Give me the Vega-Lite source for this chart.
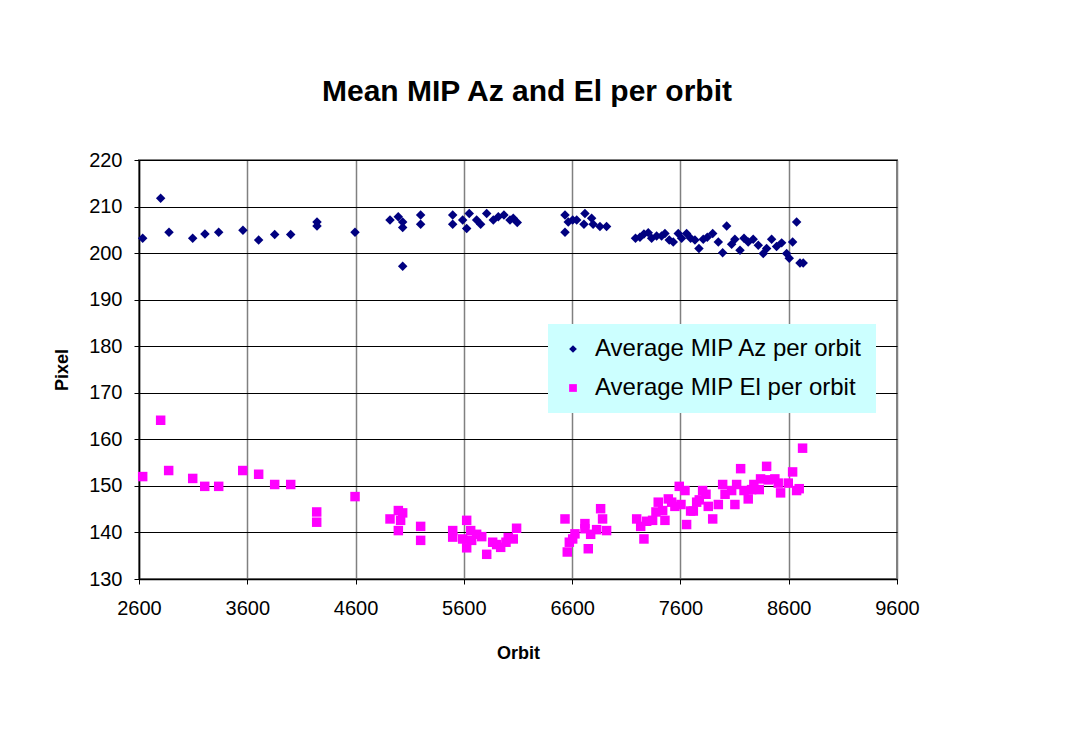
{
  "$schema": "https://vega.github.io/schema/vega-lite/v6.json",
  "autosize": "none",
  "width": 758,
  "height": 419,
  "padding": {"left": 139, "top": 160, "right": 168, "bottom": 159},
  "background": "white",
  "title": {
    "text": "Mean MIP Az and El per orbit",
    "font": "Liberation Sans",
    "fontSize": 30,
    "fontWeight": "bold",
    "color": "black",
    "anchor": "middle",
    "baseline": "alphabetic",
    "offset": 19,
    "dx": 9
  },
  "config": {
    "font": "Liberation Sans",
    "view": {"stroke": "#808080", "strokeWidth": 2}
  },
  "data": {
    "values": [
      {"series": "Az", "orbit": 2634, "pixel": 203.2}, {"series": "Az", "orbit": 2800, "pixel": 211.8},
      {"series": "Az", "orbit": 2877, "pixel": 204.5}, {"series": "Az", "orbit": 3096, "pixel": 203.2},
      {"series": "Az", "orbit": 3209, "pixel": 204.1}, {"series": "Az", "orbit": 3336, "pixel": 204.5},
      {"series": "Az", "orbit": 3560, "pixel": 204.9}, {"series": "Az", "orbit": 3705, "pixel": 202.8},
      {"series": "Az", "orbit": 3853, "pixel": 204.0}, {"series": "Az", "orbit": 4001, "pixel": 204.0},
      {"series": "Az", "orbit": 4244, "pixel": 206.7}, {"series": "Az", "orbit": 4244, "pixel": 205.8},
      {"series": "Az", "orbit": 4595, "pixel": 204.5}, {"series": "Az", "orbit": 4918, "pixel": 207.1},
      {"series": "Az", "orbit": 4994, "pixel": 207.8}, {"series": "Az", "orbit": 5035, "pixel": 206.7},
      {"series": "Az", "orbit": 5035, "pixel": 205.5}, {"series": "Az", "orbit": 5035, "pixel": 197.2},
      {"series": "Az", "orbit": 5201, "pixel": 208.2}, {"series": "Az", "orbit": 5201, "pixel": 206.2},
      {"series": "Az", "orbit": 5497, "pixel": 208.2}, {"series": "Az", "orbit": 5497, "pixel": 206.2},
      {"series": "Az", "orbit": 5589, "pixel": 207.1}, {"series": "Az", "orbit": 5626, "pixel": 205.3},
      {"series": "Az", "orbit": 5650, "pixel": 208.5}, {"series": "Az", "orbit": 5718, "pixel": 207.1},
      {"series": "Az", "orbit": 5755, "pixel": 206.2}, {"series": "Az", "orbit": 5811, "pixel": 208.5},
      {"series": "Az", "orbit": 5872, "pixel": 207.1}, {"series": "Az", "orbit": 5918, "pixel": 207.8},
      {"series": "Az", "orbit": 5970, "pixel": 208.2}, {"series": "Az", "orbit": 6026, "pixel": 207.1},
      {"series": "Az", "orbit": 6056, "pixel": 207.5}, {"series": "Az", "orbit": 6093, "pixel": 206.6},
      {"series": "Az", "orbit": 6534, "pixel": 208.2}, {"series": "Az", "orbit": 6534, "pixel": 204.5},
      {"series": "Az", "orbit": 6564, "pixel": 206.7}, {"series": "Az", "orbit": 6605, "pixel": 207.1},
      {"series": "Az", "orbit": 6642, "pixel": 207.1}, {"series": "Az", "orbit": 6718, "pixel": 208.5},
      {"series": "Az", "orbit": 6709, "pixel": 206.2}, {"series": "Az", "orbit": 6780, "pixel": 207.5},
      {"series": "Az", "orbit": 6794, "pixel": 206.2}, {"series": "Az", "orbit": 6857, "pixel": 205.7},
      {"series": "Az", "orbit": 6918, "pixel": 205.7}, {"series": "Az", "orbit": 7185, "pixel": 203.2},
      {"series": "Az", "orbit": 7226, "pixel": 203.4}, {"series": "Az", "orbit": 7263, "pixel": 204.1},
      {"series": "Az", "orbit": 7303, "pixel": 204.4}, {"series": "Az", "orbit": 7334, "pixel": 203.2},
      {"series": "Az", "orbit": 7380, "pixel": 203.7}, {"series": "Az", "orbit": 7426, "pixel": 203.7},
      {"series": "Az", "orbit": 7457, "pixel": 204.2}, {"series": "Az", "orbit": 7497, "pixel": 202.8},
      {"series": "Az", "orbit": 7534, "pixel": 202.4}, {"series": "Az", "orbit": 7580, "pixel": 204.2},
      {"series": "Az", "orbit": 7611, "pixel": 203.2}, {"series": "Az", "orbit": 7657, "pixel": 204.2},
      {"series": "Az", "orbit": 7694, "pixel": 203.2}, {"series": "Az", "orbit": 7734, "pixel": 202.8},
      {"series": "Az", "orbit": 7771, "pixel": 201.0}, {"series": "Az", "orbit": 7811, "pixel": 203.0},
      {"series": "Az", "orbit": 7848, "pixel": 203.4}, {"series": "Az", "orbit": 7898, "pixel": 204.2},
      {"series": "Az", "orbit": 7950, "pixel": 202.4}, {"series": "Az", "orbit": 7990, "pixel": 200.1},
      {"series": "Az", "orbit": 8027, "pixel": 205.8}, {"series": "Az", "orbit": 8073, "pixel": 201.9},
      {"series": "Az", "orbit": 8103, "pixel": 203.0}, {"series": "Az", "orbit": 8150, "pixel": 200.6},
      {"series": "Az", "orbit": 8187, "pixel": 203.2}, {"series": "Az", "orbit": 8226, "pixel": 202.4},
      {"series": "Az", "orbit": 8272, "pixel": 203.0}, {"series": "Az", "orbit": 8319, "pixel": 201.7},
      {"series": "Az", "orbit": 8365, "pixel": 199.9}, {"series": "Az", "orbit": 8396, "pixel": 201.0},
      {"series": "Az", "orbit": 8442, "pixel": 203.0}, {"series": "Az", "orbit": 8488, "pixel": 201.4},
      {"series": "Az", "orbit": 8535, "pixel": 202.2}, {"series": "Az", "orbit": 8581, "pixel": 199.9},
      {"series": "Az", "orbit": 8605, "pixel": 198.9}, {"series": "Az", "orbit": 8636, "pixel": 202.4},
      {"series": "Az", "orbit": 8673, "pixel": 206.7}, {"series": "Az", "orbit": 8704, "pixel": 197.9},
      {"series": "Az", "orbit": 8734, "pixel": 197.9},
      {"series": "El", "orbit": 2634, "pixel": 152.0}, {"series": "El", "orbit": 2800, "pixel": 164.1},
      {"series": "El", "orbit": 2874, "pixel": 153.3}, {"series": "El", "orbit": 3096, "pixel": 151.6},
      {"series": "El", "orbit": 3207, "pixel": 149.9}, {"series": "El", "orbit": 3336, "pixel": 149.9},
      {"series": "El", "orbit": 3558, "pixel": 153.3}, {"series": "El", "orbit": 3705, "pixel": 152.5},
      {"series": "El", "orbit": 3853, "pixel": 150.3}, {"series": "El", "orbit": 4001, "pixel": 150.3},
      {"series": "El", "orbit": 4241, "pixel": 144.4}, {"series": "El", "orbit": 4241, "pixel": 142.2},
      {"series": "El", "orbit": 4595, "pixel": 147.7}, {"series": "El", "orbit": 4918, "pixel": 142.9},
      {"series": "El", "orbit": 4995, "pixel": 144.7}, {"series": "El", "orbit": 5035, "pixel": 144.2},
      {"series": "El", "orbit": 5016, "pixel": 142.6}, {"series": "El", "orbit": 4995, "pixel": 140.4},
      {"series": "El", "orbit": 5201, "pixel": 141.3}, {"series": "El", "orbit": 5201, "pixel": 138.3},
      {"series": "El", "orbit": 5497, "pixel": 140.4}, {"series": "El", "orbit": 5497, "pixel": 139.0},
      {"series": "El", "orbit": 5589, "pixel": 138.6}, {"series": "El", "orbit": 5626, "pixel": 142.6},
      {"series": "El", "orbit": 5663, "pixel": 140.4}, {"series": "El", "orbit": 5672, "pixel": 138.3},
      {"series": "El", "orbit": 5626, "pixel": 136.7}, {"series": "El", "orbit": 5718, "pixel": 139.6},
      {"series": "El", "orbit": 5765, "pixel": 139.1}, {"series": "El", "orbit": 5811, "pixel": 135.3},
      {"series": "El", "orbit": 5866, "pixel": 137.9}, {"series": "El", "orbit": 5903, "pixel": 137.4},
      {"series": "El", "orbit": 5940, "pixel": 136.8}, {"series": "El", "orbit": 5989, "pixel": 137.9},
      {"series": "El", "orbit": 6010, "pixel": 138.9}, {"series": "El", "orbit": 6056, "pixel": 138.6},
      {"series": "El", "orbit": 6087, "pixel": 140.9}, {"series": "El", "orbit": 6534, "pixel": 142.9},
      {"series": "El", "orbit": 6555, "pixel": 135.8}, {"series": "El", "orbit": 6574, "pixel": 137.9},
      {"series": "El", "orbit": 6605, "pixel": 138.6}, {"series": "El", "orbit": 6626, "pixel": 139.7},
      {"series": "El", "orbit": 6718, "pixel": 141.9}, {"series": "El", "orbit": 6718, "pixel": 140.8},
      {"series": "El", "orbit": 6749, "pixel": 136.5}, {"series": "El", "orbit": 6771, "pixel": 139.6},
      {"series": "El", "orbit": 6826, "pixel": 140.6}, {"series": "El", "orbit": 6863, "pixel": 145.1},
      {"series": "El", "orbit": 6881, "pixel": 142.9}, {"series": "El", "orbit": 6918, "pixel": 140.4},
      {"series": "El", "orbit": 7196, "pixel": 142.9}, {"series": "El", "orbit": 7233, "pixel": 141.3},
      {"series": "El", "orbit": 7263, "pixel": 138.6}, {"series": "El", "orbit": 7288, "pixel": 142.4},
      {"series": "El", "orbit": 7343, "pixel": 142.6}, {"series": "El", "orbit": 7374, "pixel": 144.4},
      {"series": "El", "orbit": 7395, "pixel": 146.5}, {"series": "El", "orbit": 7436, "pixel": 144.7},
      {"series": "El", "orbit": 7457, "pixel": 142.6}, {"series": "El", "orbit": 7488, "pixel": 147.2},
      {"series": "El", "orbit": 7519, "pixel": 146.5}, {"series": "El", "orbit": 7549, "pixel": 145.6},
      {"series": "El", "orbit": 7589, "pixel": 149.9}, {"series": "El", "orbit": 7605, "pixel": 146.0},
      {"series": "El", "orbit": 7642, "pixel": 149.0}, {"series": "El", "orbit": 7657, "pixel": 141.7},
      {"series": "El", "orbit": 7694, "pixel": 144.6}, {"series": "El", "orbit": 7719, "pixel": 144.6},
      {"series": "El", "orbit": 7750, "pixel": 146.5}, {"series": "El", "orbit": 7774, "pixel": 147.0},
      {"series": "El", "orbit": 7805, "pixel": 149.0}, {"series": "El", "orbit": 7836, "pixel": 148.2},
      {"series": "El", "orbit": 7857, "pixel": 145.6}, {"series": "El", "orbit": 7898, "pixel": 142.9},
      {"series": "El", "orbit": 7950, "pixel": 146.0}, {"series": "El", "orbit": 7990, "pixel": 150.3},
      {"series": "El", "orbit": 8012, "pixel": 148.2}, {"series": "El", "orbit": 8073, "pixel": 149.0},
      {"series": "El", "orbit": 8103, "pixel": 146.0}, {"series": "El", "orbit": 8119, "pixel": 150.3},
      {"series": "El", "orbit": 8156, "pixel": 153.7}, {"series": "El", "orbit": 8187, "pixel": 149.0},
      {"series": "El", "orbit": 8226, "pixel": 147.2}, {"series": "El", "orbit": 8257, "pixel": 149.2},
      {"series": "El", "orbit": 8278, "pixel": 150.3}, {"series": "El", "orbit": 8328, "pixel": 149.2},
      {"series": "El", "orbit": 8340, "pixel": 151.5}, {"series": "El", "orbit": 8396, "pixel": 154.2},
      {"series": "El", "orbit": 8411, "pixel": 151.3}, {"series": "El", "orbit": 8472, "pixel": 151.5},
      {"series": "El", "orbit": 8503, "pixel": 150.6}, {"series": "El", "orbit": 8525, "pixel": 148.5},
      {"series": "El", "orbit": 8596, "pixel": 150.6}, {"series": "El", "orbit": 8636, "pixel": 153.0},
      {"series": "El", "orbit": 8673, "pixel": 149.0}, {"series": "El", "orbit": 8697, "pixel": 149.4},
      {"series": "El", "orbit": 8728, "pixel": 158.1}
    ]
  },
  "mark": {"type": "point", "filled": true, "opacity": 1, "size": 90},
  "encoding": {
    "x": {
      "field": "orbit",
      "type": "quantitative",
      "scale": {"domain": [2600, 9600], "nice": false, "zero": false},
      "axis": {
        "values": [2600, 3600, 4600, 5600, 6600, 7600, 8600, 9600],
        "format": "d",
        "title": "Orbit",
        "titleFontSize": 18,
        "titleFontWeight": "bold",
        "titleColor": "black",
        "titleBaseline": "middle",
        "titleY": 74,
        "labelFontSize": 20,
        "labelColor": "black",
        "labelPadding": 14,
        "labelFlush": false,
        "labelOverlap": false,
        "tickSize": 5,
        "tickColor": "black",
        "domainColor": "black",
        "domainWidth": 1.5,
        "grid": true,
        "gridColor": "#808080",
        "gridWidth": 1.5,
        "gridOpacity": 1
      }
    },
    "y": {
      "field": "pixel",
      "type": "quantitative",
      "scale": {"domain": [130, 220], "nice": false, "zero": false},
      "axis": {
        "values": [130, 140, 150, 160, 170, 180, 190, 200, 210, 220],
        "title": "Pixel",
        "titleFontSize": 18,
        "titleFontWeight": "bold",
        "titleColor": "black",
        "titleBaseline": "middle",
        "titleX": -77,
        "labelFontSize": 20,
        "labelColor": "black",
        "labelPadding": 12,
        "labelFlush": false,
        "labelOverlap": false,
        "tickSize": 5,
        "tickColor": "black",
        "domainColor": "black",
        "domainWidth": 1.5,
        "grid": true,
        "gridColor": "black",
        "gridWidth": 1,
        "gridOpacity": 1
      }
    },
    "color": {
      "field": "series",
      "type": "nominal",
      "scale": {"domain": ["Az", "El"], "range": ["#000080", "#ff00ff"]},
      "legend": {
        "title": null,
        "orient": "none",
        "legendX": 409,
        "legendY": 164,
        "fillColor": "#ccffff",
        "strokeColor": null,
        "padding": 13,
        "labelExpr": "'Average MIP ' + datum.label + ' per orbit'",
        "labelFontSize": 24,
        "labelColor": "black",
        "labelLimit": 400,
        "symbolSize": 60,
        "symbolOffset": 0,
        "labelOffset": 10,
        "rowPadding": 15,
        "symbolStrokeWidth": 0
      }
    },
    "shape": {
      "field": "series",
      "type": "nominal",
      "scale": {"domain": ["Az", "El"], "range": ["diamond", "square"]}
    }
  }
}
